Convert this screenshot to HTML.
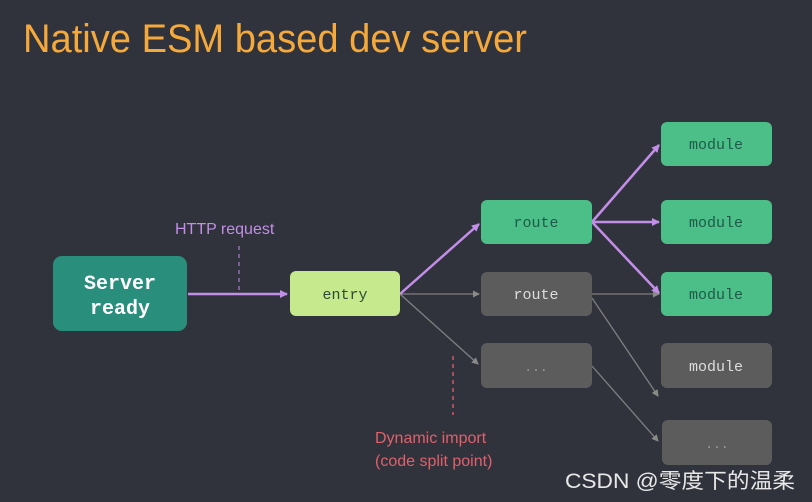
<!DOCTYPE html>
<html><head><meta charset="utf-8"><style>
html,body{margin:0;padding:0;background:#30333c;}
svg{display:block}
.m{font-family:"Liberation Mono",monospace;}
.s{font-family:"Liberation Sans",sans-serif;}
</style></head><body>
<svg width="812" height="502" viewBox="0 0 812 502" xmlns="http://www.w3.org/2000/svg">
<defs>
<marker id="ap" markerWidth="8" markerHeight="8" refX="7" refY="4" orient="auto" markerUnits="userSpaceOnUse"><path d="M0,0 L8,4 L0,8 z" fill="#c38ee8"/></marker>
<marker id="ag" markerWidth="7" markerHeight="7" refX="6" refY="3.5" orient="auto" markerUnits="userSpaceOnUse"><path d="M0,0 L7,3.5 L0,7 z" fill="#8a8a8a"/></marker>
</defs>
<rect width="812" height="502" fill="#30333c"/>
<text x="23" y="52" class="s" font-size="40" fill="#f4a93a" textLength="504" lengthAdjust="spacingAndGlyphs">Native ESM based dev server</text>

<!-- gray connectors -->
<g stroke="#7f7f7f" stroke-width="1.3" fill="none">
<line x1="400" y1="294" x2="479" y2="294" marker-end="url(#ag)"/>
<line x1="400" y1="294" x2="478" y2="364" marker-end="url(#ag)"/>
<line x1="592" y1="294" x2="659" y2="294" marker-end="url(#ag)"/>
<line x1="592" y1="298" x2="658" y2="396" marker-end="url(#ag)"/>
<line x1="592" y1="366" x2="658" y2="441" marker-end="url(#ag)"/>
</g>
<!-- purple connectors -->
<g stroke="#c38ee8" stroke-width="2.5" fill="none">
<line x1="188" y1="294" x2="287" y2="294" marker-end="url(#ap)"/>
<line x1="400" y1="294" x2="479" y2="224" marker-end="url(#ap)"/>
<line x1="592" y1="222" x2="659" y2="145" marker-end="url(#ap)"/>
<line x1="592" y1="222" x2="659" y2="222" marker-end="url(#ap)"/>
<line x1="592" y1="222" x2="659" y2="293" marker-end="url(#ap)"/>
</g>
<line x1="239" y1="246" x2="239" y2="290" stroke="#c38ee8" stroke-width="1" stroke-dasharray="4,4"/>
<line x1="453" y1="356" x2="453" y2="415" stroke="#e06070" stroke-width="1.3" stroke-dasharray="4,4"/>

<rect x="53" y="256" width="134" height="75" rx="9" fill="#2a8e7d"/>
<text x="120" y="289" class="m" font-size="20" font-weight="bold" fill="#ffffff" text-anchor="middle">Server</text>
<text x="120" y="314" class="m" font-size="20" font-weight="bold" fill="#ffffff" text-anchor="middle">ready</text>

<rect x="290" y="271" width="110" height="45" rx="6" fill="#c5e98c"/>
<text x="345" y="299" class="m" font-size="15" fill="#2d4a36" text-anchor="middle">entry</text>

<rect x="481" y="200" width="111" height="44" rx="6" fill="#4cbf88"/>
<text x="536" y="227" class="m" font-size="15" fill="#1d5a48" text-anchor="middle">route</text>
<rect x="481" y="272" width="111" height="44" rx="6" fill="#5c5c5c"/>
<text x="536" y="299" class="m" font-size="15" fill="#dddddd" text-anchor="middle">route</text>
<rect x="481" y="343" width="111" height="45" rx="6" fill="#5c5c5c"/>
<text x="536" y="371" class="m" font-size="13" fill="#999" text-anchor="middle">...</text>

<rect x="661" y="122" width="111" height="44" rx="6" fill="#4cbf88"/>
<text x="716" y="149" class="m" font-size="15" fill="#1d5a48" text-anchor="middle">module</text>
<rect x="661" y="200" width="111" height="44" rx="6" fill="#4cbf88"/>
<text x="716" y="227" class="m" font-size="15" fill="#1d5a48" text-anchor="middle">module</text>
<rect x="661" y="272" width="111" height="44" rx="6" fill="#4cbf88"/>
<text x="716" y="299" class="m" font-size="15" fill="#1d5a48" text-anchor="middle">module</text>
<rect x="661" y="343" width="111" height="45" rx="6" fill="#5c5c5c"/>
<text x="716" y="371" class="m" font-size="15" fill="#dddddd" text-anchor="middle">module</text>
<rect x="662" y="420" width="110" height="45" rx="6" fill="#5c5c5c"/>
<text x="717" y="448" class="m" font-size="13" fill="#999" text-anchor="middle">...</text>

<text x="175" y="234" class="s" font-size="16" fill="#c38ee8">HTTP request</text>
<text x="375" y="443" class="s" font-size="16" fill="#e0606c">Dynamic import</text>
<text x="375" y="466" class="s" font-size="16" fill="#e0606c">(code split point)</text>

<text x="565" y="488" font-family="'Liberation Sans','Noto Sans CJK SC',sans-serif" font-size="21" fill="#e8e8e8" textLength="230" lengthAdjust="spacingAndGlyphs">CSDN @零度下的温柔</text>
</svg>
</body></html>
